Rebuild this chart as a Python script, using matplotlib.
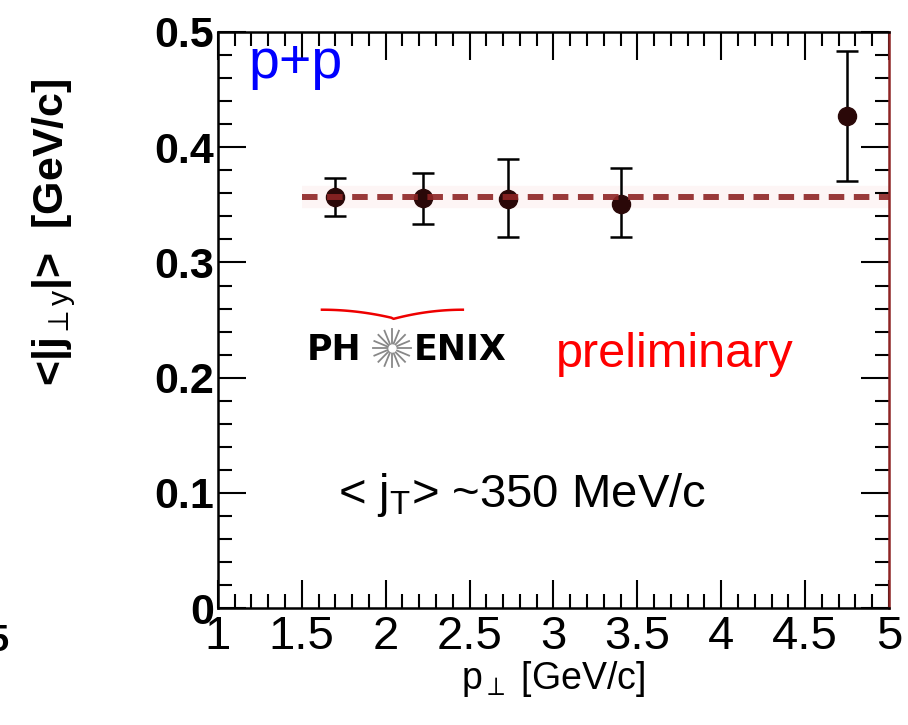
import numpy as np
import matplotlib
matplotlib.use("Agg")
from matplotlib import pyplot as plt
from matplotlib.ticker import MultipleLocator

# data
pt = [1.70, 2.22, 2.73, 3.40, 4.75]
jy = [0.357, 0.356, 0.355, 0.351, 0.427]
err_lo = [0.017, 0.023, 0.033, 0.029, 0.056]
err_hi = [0.016, 0.022, 0.035, 0.031, 0.056]
fit_value = 0.357
fit_range = [1.5, 5.0]
x_ticks = [1, 1.5, 2, 2.5, 3, 3.5, 4, 4.5, 5]
x_ticklabels = ["1", "1.5", "2", "2.5", "3", "3.5", "4", "4.5", "5"]
y_ticks = [0, 0.1, 0.2, 0.3, 0.4, 0.5]
y_ticklabels = ["0", "0.1", "0.2", "0.3", "0.4", "0.5"]

plt.rcParams['font.family'] = ['Liberation Sans', 'DejaVu Sans']
plt.rcParams['mathtext.fontset'] = 'custom'
plt.rcParams['mathtext.rm'] = 'Liberation Sans'
plt.rcParams['mathtext.it'] = 'Liberation Sans'
plt.rcParams['mathtext.bf'] = 'Liberation Sans:bold'

fig = plt.figure(figsize=(9.08, 7.25), dpi=100)
ax = fig.add_axes([0.240, 0.161, 0.739, 0.795])

# fit line with a faint glow
ax.plot(fit_range, [fit_value, fit_value], color='#f4a0a0', lw=16, alpha=0.10,
        solid_capstyle='butt', zorder=1)
ax.errorbar(pt, jy, yerr=[err_lo, err_hi], fmt='o', color='black', mfc='#2a0808',
            mec='#2a0808', ms=13, elinewidth=1.8, capsize=8, capthick=1.8, zorder=3)
ax.plot(fit_range, [fit_value, fit_value], color='#8e2424', lw=4.3,
        dashes=(2.6, 1.6), alpha=0.9, zorder=4)

ax.set_xlim(1, 5)
ax.set_ylim(0, 0.5)
ax.set_xticks(x_ticks)
ax.set_xticklabels(x_ticklabels, fontsize=34)
ax.set_yticks(y_ticks)
ax.set_yticklabels(y_ticklabels, fontsize=31, fontweight='bold')
ax.xaxis.set_minor_locator(MultipleLocator(0.1))
ax.yaxis.set_minor_locator(MultipleLocator(0.02))
ax.tick_params(which='both', direction='in', top=True, right=True, width=1.5)
ax.tick_params(which='major', length=20)
ax.tick_params(which='minor', length=10)
ax.tick_params(axis='x', pad=5)
ax.tick_params(axis='y', pad=3)
for s in ax.spines.values():
    s.set_linewidth(1.8)
ax.spines['right'].set_color('#8e2424')

ax.set_xlabel(r"p$_{\perp}$ [GeV/c]", fontsize=27, labelpad=0)

fig.text(0.060, 0.68, r"<|j$_{\perp y}$|>  [GeV/c]", rotation=90, fontsize=31,
         fontweight='bold', ha='center', va='center')
fig.text(-0.012, 0.115, "5", fontsize=26, fontweight='bold', va='center')

ax.text(0.045, 0.99, "p+p", color='#0000ff', fontsize=40, transform=ax.transAxes,
        va='top', ha='left')
ax.text(0.504, 0.44, "preliminary", color='#ff0000', fontsize=35,
        transform=ax.transAxes, va='center', ha='left')
ax.text(0.453, 0.196, r"< j$_{\mathrm{T}}$> ~350 MeV/c", fontsize=34,
        transform=ax.transAxes, va='center', ha='center')

# PHENIX logo
ax.text(0.133, 0.448, "PH", fontsize=25, fontweight='bold', family='DejaVu Sans',
        transform=ax.transAxes, va='center', ha='left')
ax.text(0.292, 0.448, "ENIX", fontsize=25, fontweight='bold', family='DejaVu Sans',
        transform=ax.transAxes, va='center', ha='left')
cx, cy = 0.259, 0.451
for a in np.linspace(0, np.pi, 8, endpoint=False):
    dx, dy = 0.028 * np.cos(a), 0.033 * np.sin(a)
    ax.plot([cx - dx, cx + dx], [cy - dy, cy + dy], color='#888888', lw=1.3,
            transform=ax.transAxes, clip_on=False)
ax.plot([cx], [cy], 'o', color='white', ms=5, transform=ax.transAxes)
arc_x = np.linspace(0.155, 0.365, 60)
arc_y = np.where(arc_x < 0.259,
                 0.518 - 0.45 * (arc_x - 0.155) ** 2 / 0.104 * 0.3,
                 0.518 - 0.45 * (0.365 - arc_x) ** 2 / 0.106 * 0.35)
ax.plot(arc_x, arc_y, color='#ee0000', lw=1.8, transform=ax.transAxes)

fig.savefig("out.png", dpi=100)
